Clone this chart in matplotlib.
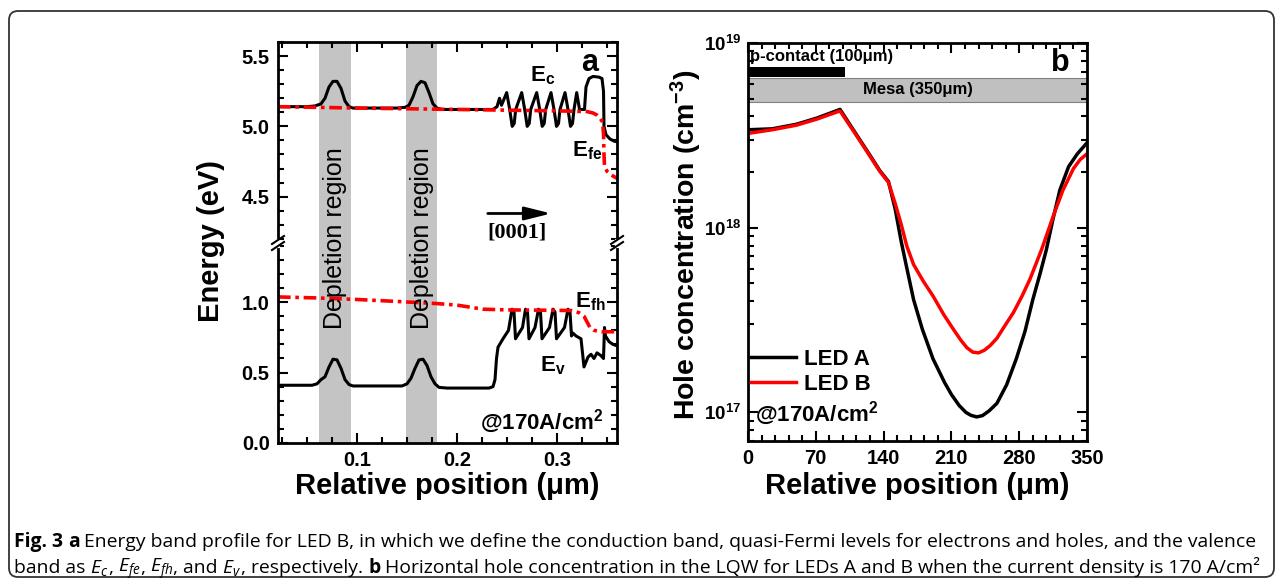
# -*- coding: utf-8 -*-
# Band profile (a) and hole concentration (b) for the LEDs, at 170 A/cm2

import matplotlib
matplotlib.use("Agg")
import matplotlib.pyplot as plt
import matplotlib.transforms as mtransforms
from matplotlib.ticker import MultipleLocator, LogLocator, FuncFormatter, NullFormatter, FormatStrFormatter
from matplotlib.patches import FancyBboxPatch, Rectangle
from matplotlib.lines import Line2D
import numpy as np

plt.rcParams['font.family'] = ['Liberation Sans', 'DejaVu Sans']
plt.rcParams['mathtext.fontset'] = 'custom'
plt.rcParams['mathtext.rm'] = 'Liberation Sans:bold'
plt.rcParams['mathtext.bf'] = 'Liberation Sans:bold'
plt.rcParams['mathtext.it'] = 'Open Sans:italic'
plt.rcParams['mathtext.default'] = 'rm'

# ---- panel a : energy bands (um, eV) ----
ec_x = [0.021, 0.050, 0.058, 0.064, 0.068, 0.072, 0.076, 0.080, 0.084, 0.088, 0.092, 0.096,
        0.140, 0.148, 0.152, 0.156, 0.160, 0.164, 0.168, 0.172, 0.176, 0.180, 0.185, 0.236,
        0.240, 0.2425, 0.2445, 0.2497,
        0.2527, 0.2552, 0.2572, 0.2587, 0.2647,
        0.2677, 0.2702, 0.2722, 0.2737, 0.2797,
        0.2827, 0.2852, 0.2872, 0.2887, 0.2940,
        0.2970, 0.2995, 0.3015, 0.3030, 0.3080,
        0.3110, 0.3135, 0.3155, 0.3170, 0.3197,
        0.3225, 0.3275, 0.3290, 0.3320, 0.3360, 0.3420, 0.3450, 0.3465, 0.3470, 0.3490,
        0.3530, 0.3570, 0.3600]
ec_y = [5.14, 5.14, 5.145, 5.16, 5.20, 5.28, 5.32, 5.32, 5.27, 5.18, 5.14, 5.13,
        5.13, 5.135, 5.15, 5.21, 5.29, 5.32, 5.31, 5.24, 5.16, 5.13, 5.12, 5.12,
        5.14, 5.20, 5.15, 5.24,
        5.12, 5.00, 5.02, 5.12, 5.24,
        5.12, 5.00, 5.02, 5.12, 5.24,
        5.12, 5.00, 5.02, 5.12, 5.24,
        5.12, 5.00, 5.02, 5.12, 5.24,
        5.12, 5.00, 5.02, 5.12, 5.24,
        5.12, 5.12, 5.28, 5.34, 5.355, 5.35, 5.34, 5.25, 5.00, 4.94,
        4.91, 4.895, 4.89]

efe_x = [0.021, 0.100, 0.200, 0.300, 0.330, 0.336, 0.340, 0.343, 0.3455, 0.3465, 0.347,
         0.3475, 0.350, 0.354, 0.360]
efe_y = [5.14, 5.13, 5.12, 5.11, 5.105, 5.095, 5.08, 5.06, 5.03, 4.95, 4.80,
         4.72, 4.68, 4.655, 4.63]

efh_x = [0.021, 0.060, 0.100, 0.140, 0.180, 0.200, 0.226, 0.250, 0.300, 0.315, 0.322,
         0.327, 0.330, 0.333, 0.337, 0.345, 0.360]
efh_y = [1.037, 1.03, 1.019, 1.005, 0.99, 0.979, 0.95, 0.945, 0.942, 0.94, 0.925,
         0.90, 0.86, 0.82, 0.80, 0.79, 0.79]

ev_x = [0.021, 0.055, 0.060, 0.064, 0.068, 0.072, 0.076, 0.080, 0.084, 0.088, 0.092, 0.096,
        0.145, 0.150, 0.154, 0.158, 0.162, 0.166, 0.170, 0.174, 0.178, 0.182, 0.190, 0.232,
        0.236, 0.238, 0.2395, 0.241, 0.246, 0.2515,
        0.2550, 0.2570, 0.2585, 0.2655,
        0.2685, 0.2705, 0.2720, 0.2780,
        0.2815, 0.2835, 0.2850, 0.2925,
        0.2960, 0.2980, 0.2995, 0.3075,
        0.3110, 0.3130, 0.3145, 0.3160, 0.3190, 0.3215, 0.3240,
        0.3270, 0.3310, 0.3340, 0.3370, 0.3400, 0.3440, 0.3465, 0.3475, 0.3485,
        0.3520, 0.3560, 0.3600]
ev_y = [0.41, 0.41, 0.42, 0.45, 0.47, 0.54, 0.595, 0.59, 0.53, 0.45, 0.415, 0.405,
        0.405, 0.42, 0.46, 0.53, 0.59, 0.595, 0.55, 0.47, 0.42, 0.395, 0.39, 0.39,
        0.40, 0.45, 0.60, 0.68, 0.74, 0.80,
        0.95, 0.93, 0.74, 0.82,
        0.95, 0.93, 0.74, 0.82,
        0.95, 0.93, 0.74, 0.82,
        0.95, 0.93, 0.74, 0.82,
        0.95, 0.93, 0.76, 0.78, 0.76, 0.75, 0.74,
        0.54, 0.61, 0.63, 0.60, 0.64, 0.62, 0.60, 0.82, 0.76,
        0.72, 0.70, 0.69]

depletion = [(0.062, 0.094), (0.149, 0.180)]

# ---- panel b : hole concentration (um, cm^-3) ----
pos_a = [0, 25, 50, 71, 95, 110, 125, 136, 145, 152, 158, 164, 171, 180, 191, 203,
         210, 218, 225, 230, 236, 242, 249, 257, 267, 277, 286, 294, 302, 308, 315,
         322, 331, 340, 350]
hole_a = [3.39e18, 3.43e18, 3.63e18, 3.92e18, 4.37e18, 3.31e18, 2.51e18, 2.04e18,
          1.78e18, 1.26e18, 8.51e17, 6.03e17, 4.07e17, 2.82e17, 1.95e17, 1.45e17,
          1.25e17, 1.09e17, 1.00e17, 9.65e16, 9.45e16, 9.6e16, 1.02e17, 1.12e17,
          1.41e17, 1.95e17, 2.75e17, 4.07e17, 5.75e17, 7.59e17, 1.12e18, 1.60e18,
          2.14e18, 2.51e18, 2.88e18]
pos_b = [0, 25, 50, 71, 95, 110, 125, 136, 145, 152, 158, 164, 171, 181, 191, 202, 212,
         220, 226, 232, 238, 244, 250, 257, 264, 274, 283, 291, 297, 303, 309, 315, 325,
         336, 343, 350]
hole_b = [3.24e18, 3.39e18, 3.59e18, 3.87e18, 4.29e18, 3.27e18, 2.48e18, 2.02e18,
          1.76e18, 1.35e18, 1.05e18, 7.94e17, 6.31e17, 5.13e17, 4.27e17, 3.39e17,
          2.82e17, 2.45e17, 2.24e17, 2.12e17, 2.10e17, 2.17e17, 2.30e17, 2.52e17,
          2.88e17, 3.47e17, 4.27e17, 5.25e17, 6.31e17, 7.59e17, 9.33e17, 1.15e18,
          1.59e18, 2.09e18, 2.34e18, 2.51e18]

W, H = 1282, 580
fig = plt.figure(figsize=(W / 100, H / 100), dpi=100)

ax_up = fig.add_axes([278 / W, 1 - 243 / H, 339 / W, 201 / H])
ax_lo = fig.add_axes([278 / W, 1 - 443 / H, 339 / W, 200 / H])
ax_r = fig.add_axes([748 / W, 1 - 441 / H, 339 / W, 398 / H])


def style(ax):
    ax.tick_params(which='both', direction='in', top=True, right=True, width=1.5,
                   labelsize=14.5)
    ax.tick_params(which='major', length=7)
    ax.tick_params(which='minor', length=4)
    ax.tick_params(axis='x', pad=6)
    ax.tick_params(axis='y', pad=6)
    for s in ax.spines.values():
        s.set_linewidth(2)
    for lab in ax.get_xticklabels() + ax.get_yticklabels():
        lab.set_fontweight('bold')


for ax in (ax_up, ax_lo):
    for a, b in depletion:
        ax.axvspan(a, b, color='#c4c4c4', lw=0)
    ax.set_xlim(0.021, 0.36)
    ax.xaxis.set_major_locator(MultipleLocator(0.1))
    ax.xaxis.set_minor_locator(MultipleLocator(0.025))
    ax.yaxis.set_major_locator(MultipleLocator(0.5))
    ax.yaxis.set_minor_locator(MultipleLocator(0.1))
    ax.yaxis.set_major_formatter(FormatStrFormatter('%.1f'))
    ax.xaxis.set_major_formatter(FormatStrFormatter('%.1f'))

red_dash = (0, (3.5, 1.3, 1, 1.3))
ax_up.plot(ec_x, ec_y, color='black', lw=2.2)
ax_up.plot(efe_x, efe_y, color='red', lw=2.6, ls=red_dash)
ax_lo.plot(ev_x, ev_y, color='black', lw=2.2)
ax_lo.plot(efh_x, efh_y, color='red', lw=2.6, ls=red_dash)

ax_up.set_ylim(4.17, 5.6)
ax_lo.set_ylim(0, 1.42)
style(ax_up)
style(ax_lo)
ax_up.spines['bottom'].set_visible(False)
ax_up.tick_params(which='both', bottom=False, labelbottom=False)
ax_lo.spines['top'].set_visible(False)
ax_lo.tick_params(which='both', top=False)

ax_up.text(0.273, 5.36, r'$E_c$', fontsize=16, ha='left', va='center')
ax_up.text(0.333, 5.45, 'a', fontsize=22, fontweight='bold', ha='center', va='center')
ax_up.text(0.315, 4.83, r'$E_{fe}$', fontsize=16, ha='left', va='center')
ax_up.annotate('', xy=(0.297, 4.38), xytext=(0.228, 4.38),
               arrowprops=dict(arrowstyle='-|>,head_length=0.8,head_width=0.2',
                               lw=2, color='black', mutation_scale=20))
ax_up.text(0.26, 4.245, '[0001]', family='Liberation Serif', fontweight='bold',
           fontsize=16, ha='center', va='center')

ax_lo.text(0.318, 1.0, r'$E_{fh}$', fontsize=16, ha='left', va='center')
ax_lo.text(0.283, 0.55, r'$E_v$', fontsize=16, ha='left', va='center')
ax_lo.text(0.959, 0.105, r'@170A/cm$^2$', transform=ax_lo.transAxes, fontsize=16,
           fontweight='bold', ha='right', va='center')

trans_dep = mtransforms.blended_transform_factory(ax_lo.transData, fig.transFigure)
for a, b in depletion:
    fig.text((a + b) / 2, 1 - 238 / H, 'Depletion region', transform=trans_dep,
             rotation=90, ha='center', va='center', fontsize=18, fontweight='normal')


def axis_break(xp, yp):
    fig.add_artist(Line2D([xp / W, xp / W], [1 - (yp + 2.5) / H, 1 - (yp - 2.5) / H],
                          color='white', lw=3, transform=fig.transFigure))
    for dy in (-3, 3):
        fig.add_artist(Line2D([(xp - 6) / W, (xp + 6) / W],
                              [1 - (yp + dy + 4) / H, 1 - (yp + dy - 4) / H],
                              color='black', lw=1.5, transform=fig.transFigure))


axis_break(278, 243)
axis_break(617, 243)

fig.text(211 / W, 1 - 241 / H, 'Energy (eV)', rotation=90, ha='center', va='center',
         fontsize=21, fontweight='bold')
fig.text(447 / W, 1 - 486 / H, 'Relative position (μm)', ha='center', va='center',
         fontsize=21, fontweight='bold')

# ---- panel b ----
ax_r.plot(pos_a, hole_a, color='black', lw=2.5, label='LED A')
ax_r.plot(pos_b, hole_b, color='red', lw=2.5, label='LED B')
ax_r.set_yscale('log')
ax_r.set_xlim(0, 350)
ax_r.set_ylim(7e16, 1e19)
ax_r.xaxis.set_major_locator(MultipleLocator(70))
ax_r.xaxis.set_minor_locator(MultipleLocator(14))
ax_r.yaxis.set_major_locator(LogLocator(base=10))
ax_r.yaxis.set_minor_locator(LogLocator(base=10, subs=np.arange(2, 10)))
ax_r.yaxis.set_minor_formatter(NullFormatter())
ax_r.yaxis.set_major_formatter(FuncFormatter(lambda v, p: r'$10^{%d}$' % round(np.log10(v))))
style(ax_r)
ax_r.tick_params(axis='y', labelsize=13.5, pad=5)

trans_r = mtransforms.blended_transform_factory(ax_r.transData, ax_r.transAxes)
ax_r.add_patch(Rectangle((0, 0.915), 100, 0.025, transform=trans_r, color='black', lw=0))
ax_r.add_patch(Rectangle((0, 0.852), 350, 0.060, transform=trans_r, fc='#c0c0c0',
                         ec='#808080', lw=0.8))
ax_r.text(2, 0.966, 'p-contact (100μm)', transform=trans_r, fontsize=12, fontweight='bold',
          ha='left', va='center')
ax_r.text(175, 0.882, 'Mesa (350μm)', transform=trans_r, fontsize=12, fontweight='bold',
          ha='center', va='center')
ax_r.text(322, 0.95, 'b', transform=trans_r, fontsize=22, fontweight='bold',
          ha='center', va='center')
ax_r.text(0.02, 0.068, r'@170A/cm$^2$', transform=ax_r.transAxes, fontsize=16,
          fontweight='bold', ha='left', va='center')
ax_r.legend(loc='lower left', bbox_to_anchor=(0.01, 0.115), frameon=False,
            prop={'weight': 'bold', 'size': 16}, handlelength=2.0, handletextpad=0.35,
            labelspacing=0.2, borderpad=0, borderaxespad=0)

fig.text(686 / W, 1 - 245 / H, r'Hole concentration (cm$^{-3}$)', rotation=90,
         ha='center', va='center', fontsize=20.5, fontweight='bold')
fig.text(917 / W, 1 - 486 / H, 'Relative position (μm)', ha='center', va='center',
         fontsize=21, fontweight='bold')

# ---- frame and caption ----
fig.add_artist(FancyBboxPatch((9 / W, 3 / H), 1265 / W, 566 / H,
                              boxstyle='round,pad=0,rounding_size=%f' % (9 / W),
                              mutation_aspect=W / H, transform=fig.transFigure,
                              fc='none', ec='#333333', lw=1.3))

cap_family = ['Liberation Sans Narrow', 'Open Sans']
line1 = [('Fig. 3', 'bold', 0), ('a', 'bold', 0.24),
         ('Energy band profile for LED B, in which we define the conduction band, '
          'quasi-Fermi levels for electrons and holes, and the valence', 'normal', 0.24)]
line2 = [('band as', 'normal', 0), (r'$\mathit{E}_{\mathit{c}}$', 'normal', 0.24),
         (',', 'normal', 0), (r'$\mathit{E}_{\mathit{fe}}$', 'normal', 0.24),
         (',', 'normal', 0), (r'$\mathit{E}_{\mathit{fh}}$', 'normal', 0.24),
         (', and', 'normal', 0), (r'$\mathit{E}_{\mathit{v}}$', 'normal', 0.24),
         (', respectively.', 'normal', 0), ('b', 'bold', 0.24),
         ('Horizontal hole concentration in the LQW for LEDs A and B when the current '
          'density is 170 A/cm²', 'normal', 0.24)]


def draw_line(y_base, pieces, size):
    r = fig.canvas.get_renderer()
    x = 14
    arts = []
    for s, w, gap in pieces:
        x += gap * size * 100 / 72
        t = fig.text(x / W, 1 - y_base / H, s, fontsize=size, fontweight=w,
                     family=cap_family, va='baseline', ha='left')
        x += t.get_window_extent(renderer=r).width
        arts.append(t)
    return x, arts


end, arts = draw_line(547, line1, 12)
for t in arts:
    t.remove()
cap_size = 12 * (1250 - 14) / (end - 14)
draw_line(547, line1, cap_size)
draw_line(573, line2, cap_size)

fig.savefig('out.png', dpi=100)
